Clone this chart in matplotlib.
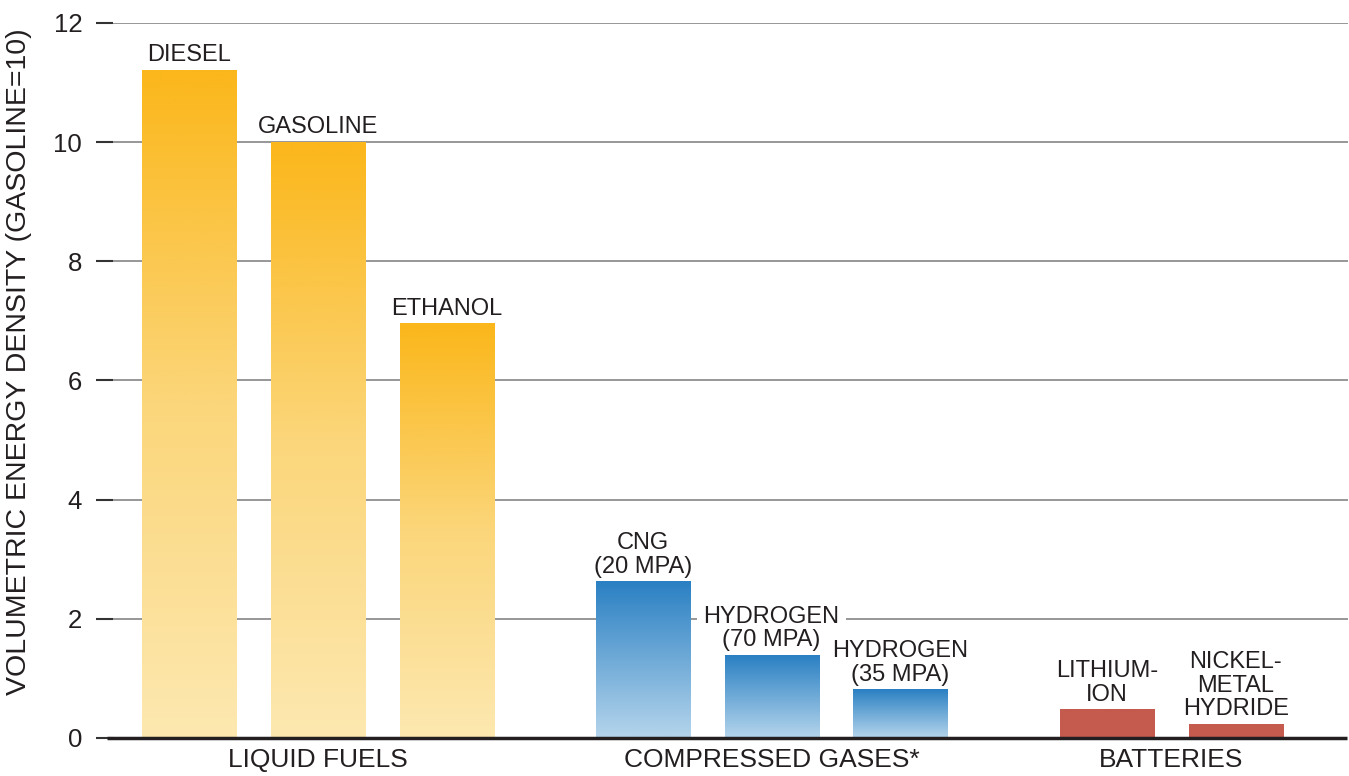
import matplotlib.pyplot as plt
import numpy as np
from matplotlib.colors import LinearSegmentedColormap

plt.rcParams['font.family'] = ['Liberation Sans', 'DejaVu Sans']

# volumetric energy density, gasoline = 10
groups = ["LIQUID FUELS", "COMPRESSED GASES*", "BATTERIES"]
liquid_labels = ["DIESEL", "GASOLINE", "ETHANOL"]
liquid_values = [11.2, 10.0, 6.95]
gas_labels = ["CNG\n(20 MPA)", "HYDROGEN\n(70 MPA)", "HYDROGEN\n(35 MPA)"]
gas_values = [2.62, 1.39, 0.81]
battery_labels = ["LITHIUM-\nION", "NICKEL-\nMETAL\nHYDRIDE"]
battery_values = [0.47, 0.23]

TEXT = '#231f20'
gold = LinearSegmentedColormap.from_list('gold', ['#fde8b0', '#fbd67a', '#fbb71b'])
blue = LinearSegmentedColormap.from_list('blue', ['#b5d5ec', '#2a80c3'])
red = LinearSegmentedColormap.from_list('red', ['#c55b4f', '#c55b4f'])

fig = plt.figure(figsize=(13.49, 7.76), dpi=100)
ax = fig.add_axes([0.0712, 0.049, 0.928, 0.9214])

width = 0.73
# bar centres: three per group, spacing 1, with wider gaps between groups
starts = [0.0, 3.52, 7.12]
series = [(liquid_labels, liquid_values, gold),
          (gas_labels, gas_values, blue),
          (battery_labels, battery_values, red)]

grad = np.linspace(0, 1, 256).reshape(-1, 1)
for gi, (labels, values, cmap) in enumerate(series):
    xs = starts[gi] + np.arange(len(values))
    for x, v, lab in zip(xs, values, labels):
        ax.imshow(grad, cmap=cmap, origin='lower', aspect='auto',
                  extent=(x - width / 2, x + width / 2, 0, v), zorder=3)
        # two-line labels sit on the gridlines, so knock the line out behind them
        box = dict(facecolor='white', edgecolor='none', pad=5) if '\n' in lab else None
        ax.text(x, v + 0.07, lab, ha='center', va='bottom', fontsize=17,
                color=TEXT, linespacing=1.08, zorder=2.5, bbox=box)
    ax.text(xs.mean(), -0.16, groups[gi], ha='center', va='top',
            fontsize=19, color=TEXT)

ax.set_xlim(-0.72, 8.99)
ax.set_ylim(0, 12)
ax.set_yticks(range(0, 13, 2))
ax.tick_params(axis='y', direction='in', length=12, width=1.5,
               color='#333333', pad=10, labelsize=18.5, labelcolor=TEXT)
ax.set_xticks([])
for y in range(2, 13, 2):
    ax.axhline(y, color='#858585', lw=1.2, zorder=1)
ax.plot([-0.636, 8.98], [0, 0], color='#231f20', lw=2.5, zorder=4,
        solid_capstyle='butt', clip_on=False)
for s in ax.spines.values():
    s.set_visible(False)
ax.set_ylabel("VOLUMETRIC ENERGY DENSITY (GASOLINE=10)", fontsize=20.5,
              color=TEXT)
ax.yaxis.set_label_coords(-0.051, 0.526)

fig.savefig('out.png', dpi=100)
